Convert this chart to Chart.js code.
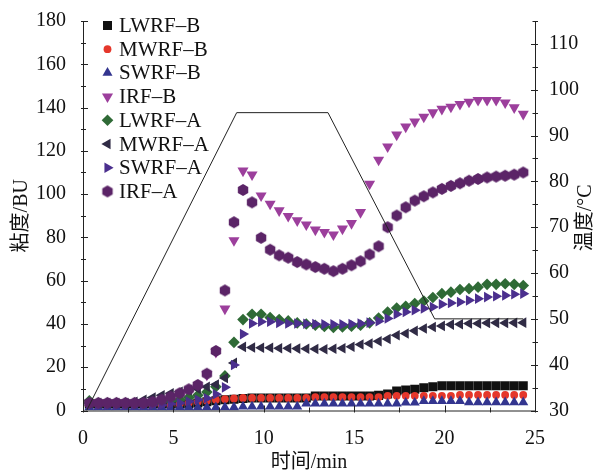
<!DOCTYPE html>
<html>
<head>
<meta charset="utf-8">
<script src="https://cdn.jsdelivr.net/npm/chart.js@4.4.1/dist/chart.umd.min.js"></script>
<style>
  html, body { margin: 0; padding: 0; background: #fff; }
  #wrap { width: 598px; height: 475px; }
</style>
</head>
<body>
<div id="wrap"><canvas id="chart" width="598" height="475"></canvas></div>
<script>
// sampling times (min)
const times = [0.35, 0.85, 1.35, 1.85, 2.35, 2.85, 3.35, 3.85, 4.35, 4.85,
  5.35, 5.85, 6.35, 6.85, 7.35, 7.85, 8.35, 8.85, 9.35, 9.85,
  10.35, 10.85, 11.35, 11.85, 12.35, 12.85, 13.35, 13.85, 14.35, 14.85,
  15.35, 15.85, 16.35, 16.85, 17.35, 17.85, 18.35, 18.85, 19.35, 19.85,
  20.35, 20.85, 21.35, 21.85, 22.35, 22.85, 23.35, 23.85, 24.35];

// viscosity (BU)
const lwrfB = [3, 3, 3, 3, 3, 3, 3, 3, 3, 3,
  3, 3, 3.5, 4, 4.5, 5, 5.2, 5.5, 5.8, 5.8,
  5.8, 5.8, 5.8, 5.8, 5.8, 6.7, 6.7, 6.7, 6.7, 6.7,
  6.7, 6.7, 7, 7.6, 9, 9.5, 9.8, 10.5, 11, 11.4,
  11.4, 11.4, 11.4, 11.4, 11.4, 11.4, 11.4, 11.4, 11.4];
const mwrfB = [2.5, 2.5, 2.5, 2.5, 2.5, 2.5, 2.5, 2.5, 2.5, 2.5,
  3, 3.5, 4, 4.5, 5, 5.3, 5.6, 5.8, 5.8, 5.8,
  5.8, 5.8, 5.8, 5.8, 5.8, 6.2, 6.2, 6.2, 6.2, 6.2,
  6.2, 6.2, 6.2, 6.8, 6.8, 6.8, 6.8, 6.8, 6.8, 6.8,
  6.8, 7.2, 7.2, 7.2, 7.2, 7.2, 7.2, 7.2, 7.2];
const swrfB = [1.5, 1.5, 1.5, 1.5, 1.5, 1.5, 1.5, 1.5, 1.5, 1.5,
  1.5, 1.5, 1.5, 1.5, 1.5, 1.5, 1.5, 1.8, 1.8, 1.8,
  1.8, 1.8, 1.8, 1.8, 3.2, 3.2, 3.2, 3.2, 3.2, 3.2,
  3.2, 3.2, 3.2, 3.2, 3.2, 3.6, 3.6, 4.4, 4.4, 4.4,
  4.4, 4.4, 3.8, 3.8, 3.8, 3.8, 3.8, 3.8, 3.8];
const irfB = [3.5, 3.5, 3.5, 3.5, 3.5, 3.5, 3.5, 4, 4.5, 5.5,
  6.5, 8, 10.5, 16.5, 27, 47, 78.6, 110.8, 109, 99.3,
  95.5, 92.4, 89.8, 87.8, 85.9, 83.5, 82.4, 81.3, 84, 86.5,
  91.6, 104.7, 115.8, 121.9, 127.4, 131.1, 133.5, 135.7, 137.7, 139.3,
  140.3, 141.6, 142.6, 143.4, 143.4, 143.4, 142.3, 140, 137];
const lwrfA = [4.5, 3.5, 3.5, 3.5, 3.5, 3.5, 3.5, 3.5, 4, 4.5,
  5, 6, 7, 8.5, 11, 16, 31.5, 42, 44.5, 44.5,
  43, 42, 41.4, 40.5, 40, 39.4, 38.8, 38.4, 38.6, 38.9,
  39.4, 40.5, 42.7, 45.5, 47.4, 48.2, 49.4, 50.6, 52.2, 54,
  54.7, 55.9, 56.3, 57, 58.3, 58.3, 58.6, 58.3, 57.8];
const mwrfA = [3.5, 3.5, 3.5, 3.5, 3.5, 4, 5, 6, 7, 8,
  8.7, 9.5, 10, 11, 12, 15, 22, 29.4, 29.1, 29,
  29, 28.8, 28.8, 28.6, 28.5, 28.4, 28.3, 28.5, 28.8, 29.5,
  30.5, 31, 32, 33, 34.8, 35.6, 36.8, 37.9, 38.6, 39.1,
  39.7, 39.9, 40.2, 40.2, 40.4, 40.5, 40.4, 40.5, 40.6];
const swrfA = [2.5, 2.5, 2.5, 2.5, 2.5, 2.5, 2.5, 2.5, 2.5, 3,
  3.5, 4.2, 5, 5.7, 7.5, 10.7, 21, 35.3, 40.2, 41,
  41, 40.5, 40.2, 40.2, 40.1, 40, 39.8, 39.8, 39.8, 40,
  40.2, 40.6, 41.3, 42.5, 44.5, 45.5, 46.3, 47.1, 47.8, 49.1,
  49.7, 50.1, 50.9, 51.7, 52.4, 52.8, 53.2, 53.7, 54];
const irfA = [3.5, 3.5, 3.5, 3.5, 3.5, 3.5, 3.5, 4, 5, 6.4,
  8, 9.8, 11.8, 17, 27.5, 55.5, 87, 101.9, 96.2, 79.8,
  74.3, 71.7, 70.6, 68.6, 67.5, 66.3, 65.5, 64.4, 65.5, 67.1,
  69, 72.1, 75.9, 84.7, 90.1, 93.9, 97, 99, 100.8, 102.4,
  103.8, 105, 106.2, 107, 107.7, 108.1, 108.5, 109, 110];

// temperature profile (°C)
const tempTime = [0.2, 8.5, 13.55, 19.45, 24.35];
const tempValue = [30, 95, 95, 50, 50];

const labels = ['LWRF–B', 'MWRF–B', 'SWRF–B', 'IRF–B', 'LWRF–A', 'MWRF–A', 'SWRF–A', 'IRF–A'];

const serif = "'Liberation Serif', 'Times New Roman', 'Noto Sans CJK SC', serif";
const axisColor = '#222';

function hexagon(r, color) {
    const c = document.createElement('canvas');
    const s = Math.ceil(r * 2) + 2;
    c.width = s;
    c.height = s;
    const g = c.getContext('2d');
    g.fillStyle = color;
    g.beginPath();
    for (let i = 0; i < 6; i++) {
        const a = Math.PI / 3 * i - Math.PI / 2;
        const px = s / 2 + r * Math.cos(a);
        const py = s / 2 + r * Math.sin(a);
        if (i === 0) g.moveTo(px, py); else g.lineTo(px, py);
    }
    g.closePath();
    g.fill();
    return c;
}

const styles = [
    { color: '#111111', style: 'rect', radius: 6.4, rotation: 0 },
    { color: '#e5372b', style: 'circle', radius: 3.9, rotation: 0 },
    { color: '#33358f', style: 'triangle', radius: 5.8, rotation: 0 },
    { color: '#9c3f9c', style: 'triangle', radius: 6.4, rotation: 180 },
    { color: '#2f6a36', style: 'rectRot', radius: 5.8, rotation: 0 },
    { color: '#302b45', style: 'triangle', radius: 6.1, rotation: 270 },
    { color: '#4b2f8e', style: 'triangle', radius: 6.1, rotation: 90 },
    { color: '#5b2467', style: hexagon(6, '#5b2467'), radius: 6, rotation: 0 }
];

const series = [lwrfB, mwrfB, swrfB, irfB, lwrfA, mwrfA, swrfA, irfA];

const datasets = series.map((values, i) => ({
    label: labels[i],
    data: times.map((t, j) => ({ x: t, y: values[j] })),
    yAxisID: 'y',
    showLine: false,
    pointStyle: styles[i].style,
    pointRadius: styles[i].radius,
    pointHoverRadius: styles[i].radius,
    pointRotation: styles[i].rotation,
    backgroundColor: styles[i].color,
    borderColor: styles[i].color,
    pointBorderWidth: 0,
    order: 100 - i
}));

datasets.push({
    label: 'temp',
    type: 'line',
    data: tempTime.map((t, j) => ({ x: t, y: tempValue[j] })),
    yAxisID: 'y2',
    borderColor: '#222',
    borderWidth: 1,
    pointRadius: 0,
    fill: false,
    order: 0
});

// axis lines + ticks crossing the axes, like the original plot
const framePlugin = {
    id: 'frame',
    afterDatasetsDraw(chart) {
        const { ctx, chartArea: a, scales } = chart;
        ctx.save();
        ctx.strokeStyle = axisColor;
        ctx.lineWidth = 1;
        ctx.beginPath();
        ctx.moveTo(a.left + 0.5, a.top);
        ctx.lineTo(a.left + 0.5, a.bottom + 0.5);
        ctx.lineTo(a.right + 0.5, a.bottom + 0.5);
        ctx.lineTo(a.right + 0.5, a.top);

        const sx = scales.x;
        for (let v = sx.min, n = 0; v <= sx.max + 1e-6; v += 2.5, n++) {
            const px = Math.round(sx.getPixelForValue(v)) + 0.5;
            const len = n % 2 === 0 ? 5 : 3;
            ctx.moveTo(px, a.bottom - len);
            ctx.lineTo(px, a.bottom + 2);
        }
        const sy = scales.y;
        for (let v = sy.min, n = 0; v <= sy.max + 1e-6; v += 10, n++) {
            const py = Math.round(sy.getPixelForValue(v)) + 0.5;
            const len = n % 2 === 0 ? 5 : 3;
            ctx.moveTo(a.left - 2, py);
            ctx.lineTo(a.left + len, py);
        }
        const s2 = scales.y2;
        for (let v = s2.min, n = 0; v <= s2.max + 1e-6; v += 5, n++) {
            const py = Math.round(s2.getPixelForValue(v)) + 0.5;
            const len = n % 2 === 0 ? 4 : 2.5;
            ctx.moveTo(a.right - len, py);
            ctx.lineTo(a.right + 3, py);
        }
        ctx.stroke();
        ctx.restore();
    }
};

// legend inside the plot (top left) and the right axis title, read bottom to top
const legendPlugin = {
    id: 'innerLegend',
    afterDraw(chart) {
        const { ctx, chartArea: a } = chart;
        ctx.save();
        ctx.font = '21px ' + serif;
        ctx.textBaseline = 'middle';
        ctx.textAlign = 'left';
        labels.forEach((name, i) => {
            const y = 25.5 + i * 23.7;
            const st = styles[i];
            ctx.fillStyle = st.color;
            ctx.strokeStyle = st.color;
            Chart.helpers.drawPoint(ctx, {
                pointStyle: st.style,
                rotation: st.rotation,
                radius: st.radius,
                borderWidth: 0
            }, 107.5, y);
            ctx.fillStyle = '#111';
            ctx.fillText(name, 119, y + 1);
        });

        ctx.translate(586, (a.top + a.bottom) / 2 + 2);
        ctx.rotate(-Math.PI / 2);
        ctx.font = '20px ' + serif;
        ctx.textAlign = 'center';
        ctx.fillStyle = '#111';
        ctx.fillText('温度/°C', 0, 0);
        ctx.restore();
    }
};

const tickFont = { family: serif, size: 20 };

new Chart(document.getElementById('chart'), {
    type: 'scatter',
    data: { datasets: datasets },
    options: {
        responsive: false,
        animation: false,
        layout: { padding: { top: 20, right: 0, bottom: 0, left: 0 } },
        plugins: {
            legend: { display: false },
            tooltip: { enabled: false }
        },
        scales: {
            x: {
                type: 'linear',
                min: 0,
                max: 25,
                grid: { display: false },
                border: { display: false },
                ticks: { stepSize: 5, font: tickFont, color: '#111', padding: 8, maxRotation: 0 },
                title: { display: true, text: '时间/min', font: tickFont, color: '#111', padding: { top: 0, bottom: 0 } },
                afterFit: (s) => { s.height = 64.5; }
            },
            y: {
                position: 'left',
                min: 0,
                max: 180,
                grid: { display: false },
                border: { display: false },
                ticks: { stepSize: 20, font: tickFont, color: '#111', padding: 9 },
                title: { display: true, text: '粘度/BU', font: tickFont, color: '#111', padding: { top: 10, bottom: 0 } },
                afterFit: (s) => { s.width = 83; }
            },
            y2: {
                position: 'right',
                min: 30,
                max: 115,
                grid: { display: false },
                border: { display: false },
                ticks: { stepSize: 10, includeBounds: false, font: tickFont, color: '#111', padding: 6 },
                title: { display: false },
                afterFit: (s) => { s.width = 63; }
            }
        }
    },
    plugins: [framePlugin, legendPlugin]
});
</script>
</body>
</html>
